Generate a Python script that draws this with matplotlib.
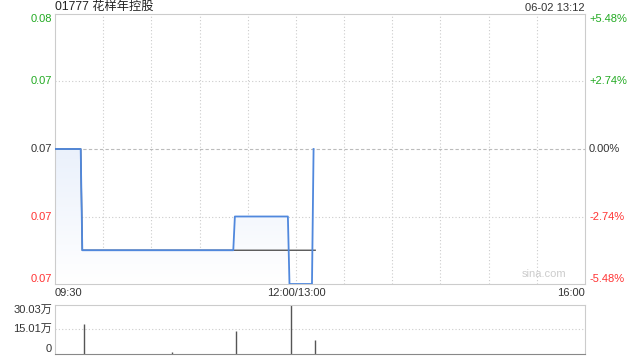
import matplotlib
matplotlib.use('Agg')
import matplotlib.pyplot as plt
import numpy as np

plt.rcParams['font.family'] = ['Liberation Sans', 'Noto Sans CJK SC']

# minutes since 09:30 (trading minutes, lunch break removed)
price_min = [0, 16, 17, 111, 112, 145, 146, 160, 161]
price = [0.073, 0.073, 0.070, 0.070, 0.071, 0.071, 0.069, 0.069, 0.073]
avg_min = [0, 16, 17, 162]
avg = [0.073, 0.073, 0.070, 0.070]
vol_min = [18, 73, 113, 147, 162]
vol = [18.0, 1.0, 14.0, 30.03, 8.3]  # 万

prev_close = 0.073
y_ticks = [0.069, 0.071, 0.073, 0.075, 0.077]
y_labels = ['0.07', '0.07', '0.07', '0.07', '0.08']
pct_labels = ['-5.48%', '-2.74%', '0.00%', '+2.74%', '+5.48%']
x_ticks = [0, 150, 330]
x_labels = ['09:30', '12:00/13:00', '16:00']
vol_ticks = [0, 15.01, 30.03]
vol_labels = ['0', '15.01万', '30.03万']

green = '#22aa22'
red = '#ff3333'
dark = '#333333'
tick_colors = [red, red, dark, green, green]

fig = plt.figure(figsize=(6.4, 3.6), dpi=100)
ax = fig.add_axes([55/640, 1-284/360, 530/640, 270/360])
axv = fig.add_axes([55/640, 1-353.5/360, 530/640, 48.5/360])

ymin, ymax = 0.069, 0.077
ax.set_xlim(0, 330)
ax.set_ylim(ymin, ymax)

# gradient fill under price line
poly = ax.fill_between(price_min, price, ymin, color='none', lw=0)
grad = np.linspace(0, 1, 256).reshape(-1, 1)
cmap = matplotlib.colors.LinearSegmentedColormap.from_list('g', ['#ffffff', '#d6e3f8'])
im = ax.imshow(grad, cmap=cmap, aspect='auto', origin='lower',
               extent=[0, 330, ymin, ymax], zorder=1)
im.set_clip_path(poly.get_paths()[0], transform=ax.transData)

ax.plot(avg_min, avg, color='#555555', lw=1.0, zorder=3)
ax.plot(price_min, price, color='#5088dd', lw=1.3, zorder=4)

for xg in range(30, 330, 30):
    ax.axvline(xg, color='#cccccc', lw=0.8, ls=(0, (1, 2)), zorder=0)
for yg in [0.071, 0.075]:
    ax.axhline(yg, color='#cccccc', lw=0.8, ls=(0, (1, 2)), zorder=0)
ax.axhline(prev_close, color='#bbbbbb', lw=0.8, ls=(0, (3, 2)), zorder=0)

for s in ax.spines.values():
    s.set_color('#cccccc')
ax.set_xticks([])
ax.set_yticks([])

fs = 8
for yv, lab, pl, c in zip(y_ticks, y_labels, pct_labels, tick_colors):
    va = 'center'
    if yv == ymax:
        va = 'top'
    elif yv == ymin:
        va = 'bottom'
    ax.text(-3/530*330, yv, lab, ha='right', va=va, color=c, fontsize=fs,
            transform=ax.transData)
    ax.text(330 + 4/530*330, yv, pl, ha='left', va=va, color=c, fontsize=fs,
            transform=ax.transData)

for xv, lab in zip(x_ticks, x_labels):
    ha = 'left' if xv == 0 else ('right' if xv == 330 else 'center')
    ax.text(xv, -0.035, lab, ha=ha, va='center', color=dark, fontsize=fs,
            transform=ax.get_xaxis_transform())

ax.text(0, 1.005, '01777 花样年控股', ha='left', va='bottom', color='#222222',
        fontsize=8.8, transform=ax.transAxes)
ax.text(1, 1.005, '06-02 13:12', ha='right', va='bottom', color=dark,
        fontsize=8, transform=ax.transAxes)
ax.text(0.965, 0.02, 'sina.com', ha='right', va='bottom', color='#cccccc',
        fontsize=8, transform=ax.transAxes)

# volume panel
axv.set_xlim(0, 330)
axv.set_ylim(0, 30.03)
axv.vlines(vol_min, 0, vol, color='#555555', lw=1.0)
axv.axhline(15.01, color='#cccccc', lw=0.8, ls=(0, (1, 2)), zorder=0)
for s in axv.spines.values():
    s.set_color('#cccccc')
axv.spines['bottom'].set_linestyle((0, (1, 1)))
axv.spines['bottom'].set_color('#888888')
axv.set_xticks([])
axv.set_yticks([])
for yv, lab in zip(vol_ticks, vol_labels):
    va = 'center'
    if yv == 30.03:
        va = 'top'
    elif yv == 0:
        va = 'bottom'
    axv.text(-3/530*330, yv, lab, ha='right', va=va, color=dark, fontsize=fs,
             transform=axv.transData)

fig.savefig('out.png', dpi=100)
